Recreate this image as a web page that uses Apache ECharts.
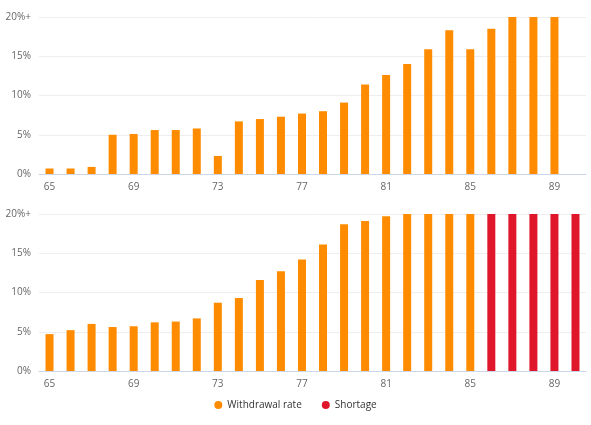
<!DOCTYPE html><html><head><meta charset="utf-8"><script src="https://cdn.jsdelivr.net/npm/echarts@6/dist/echarts.min.js"></script></head><body style="margin:0"><div id="c" style="width:591px;height:425px"></div><script>
var ages=[];for(var a=65;a<=90;a++)ages.push(String(a));
var topRate=[0.7,0.7,0.9,5.0,5.1,5.6,5.6,5.8,2.3,6.7,7.0,7.3,7.7,8.0,9.1,11.4,12.6,14.0,15.9,18.3,15.9,18.5,20,20,20,null];
var botRate=[4.7,5.2,6.0,5.6,5.7,6.2,6.3,6.7,8.7,9.3,11.6,12.7,14.2,16.1,18.7,19.1,19.7,20,20,20,20,null,null,null,null,null];
var botShort=[null,null,null,null,null,null,null,null,null,null,null,null,null,null,null,null,null,null,null,null,null,20,20,20,20,20];
var c=echarts.init(document.getElementById('c'));
function xa(i){return {type:'category',gridIndex:i,data:ages,axisTick:{show:false},axisLine:{lineStyle:{color:'#ccd6eb'}},axisLabel:{interval:3,color:'#666',fontSize:10,fontFamily:'Open Sans'}};}
function ya(i){return {type:'value',gridIndex:i,min:0,max:20,interval:5,splitLine:{lineStyle:{color:'#eeeeee'}},axisLabel:{color:'#666',fontSize:10,fontFamily:'Open Sans',formatter:function(v){return v==20?'20%+':v+'%';}}};}
c.setOption({animation:false,
grid:[{left:39,right:5,top:17,height:157},{left:39,right:5,top:214,height:157}],
xAxis:[xa(0),xa(1)],yAxis:[ya(0),ya(1)],
legend:{bottom:10,itemWidth:8,itemHeight:8,icon:'circle',itemGap:20,textStyle:{color:'#333',fontSize:10,fontFamily:'Open Sans'},data:['Withdrawal rate','Shortage']},
series:[
{name:'Withdrawal rate',type:'bar',xAxisIndex:0,yAxisIndex:0,data:topRate,barWidth:8,itemStyle:{color:'#ff8c00'}},
{name:'Withdrawal rate',type:'bar',xAxisIndex:1,yAxisIndex:1,data:botRate,barWidth:8,barGap:'-100%',itemStyle:{color:'#ff8c00'}},
{name:'Shortage',type:'bar',xAxisIndex:1,yAxisIndex:1,data:botShort,barWidth:8,itemStyle:{color:'#e0162b'}}
]});
</script></body></html>
